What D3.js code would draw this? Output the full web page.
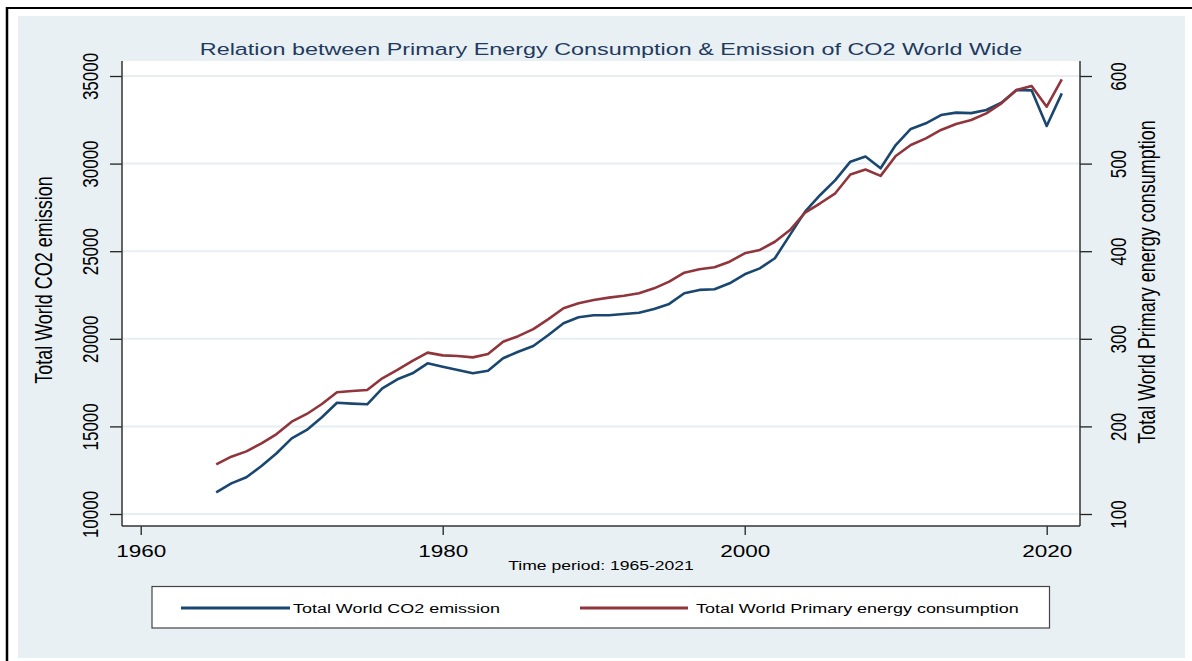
<!DOCTYPE html>
<html>
<head>
<meta charset="utf-8">
<script src="https://cdn.jsdelivr.net/npm/d3@7/dist/d3.min.js"></script>
<style>
  html, body { margin: 0; padding: 0; background: #ffffff; }
  svg { display: block; font-family: "Liberation Sans", Arial, sans-serif; }
</style>
</head>
<body>
<svg id="chart" width="1192" height="661"></svg>
<script>
// Annual observations, 1965-2021
const years = [1965,1966,1967,1968,1969,1970,1971,1972,1973,1974,1975,1976,1977,1978,1979,
  1980,1981,1982,1983,1984,1985,1986,1987,1988,1989,1990,1991,1992,1993,1994,1995,1996,
  1997,1998,1999,2000,2001,2002,2003,2004,2005,2006,2007,2008,2009,2010,2011,2012,2013,
  2014,2015,2016,2017,2018,2019,2020,2021];

// Total world CO2 emission (left axis)
const co2Emission = [11240,11750,12100,12740,13470,14320,14800,15520,16350,16300,16260,17170,
  17690,18030,18600,18410,18220,18030,18180,18890,19260,19590,20220,20890,21230,21340,21340,
  21420,21490,21700,21990,22600,22790,22830,23170,23680,24020,24600,25930,27260,28210,29060,
  30110,30400,29730,31060,31980,32300,32770,32910,32880,33060,33480,34200,34180,32150,34010];

// Total world primary energy consumption (right axis)
const energyConsumption = [156.7,165.4,171.5,180.7,191.3,205.4,214.2,225.6,238.9,240.4,241.6,
  254.9,264.4,274.7,284.2,281.1,280.4,278.8,282.6,296.7,303,311,322.5,334.8,340.5,344.3,347,
  349.2,351.9,357.6,365.2,375.5,379.3,381.6,388,397.6,401.4,410.8,424.2,444,454.7,466.1,487.5,
  493.3,486,508.7,521.2,528.8,538.4,545.2,549.8,557.4,568.8,584,588.6,565,596.2];

const xTicks = [1960, 1980, 2000, 2020];
const leftTicks = [10000, 15000, 20000, 25000, 30000, 35000];
const rightTicks = [100, 200, 300, 400, 500, 600];

const seriesNames = ["Total World CO2 emission", "Total World Primary energy consumption"];
const seriesColors = ["#1a476f", "#90353b"];

const titleText = "Relation between Primary Energy Consumption & Emission of CO2 World Wide";
const xTitle = "Time period: 1965-2021";
const leftTitle = "Total World CO2 emission";
const rightTitle = "Total World Primary energy consumption";

// ---- layout ----
const plot = { left: 122, right: 1080, top: 61, bottom: 526 };
const stretch = 1.35;     // horizontal text stretch of the graph's typeface
const vStretch = 1.3;

const svg = d3.select("#chart");

// outer frame and graph background
svg.append("rect").attr("x", 18).attr("y", 16).attr("width", 1167).attr("height", 642)
  .attr("fill", "#e9f0f3");
svg.append("line").attr("x1", 6).attr("x2", 1192).attr("y1", 8).attr("y2", 8)
  .attr("stroke", "#000").attr("stroke-width", 2);
svg.append("line").attr("x1", 7).attr("x2", 7).attr("y1", 7).attr("y2", 661)
  .attr("stroke", "#000").attr("stroke-width", 2.5);

// plot region
svg.append("rect").attr("x", plot.left).attr("y", plot.top)
  .attr("width", plot.right - plot.left).attr("height", plot.bottom - plot.top)
  .attr("fill", "#ffffff");

// scales
const x = d3.scaleLinear().domain([1960, 2020]).range([140.7, 1046.7]);
const yLeft = d3.scaleLinear().domain([10000, 35000]).range([514, 76]);
const yRight = d3.scaleLinear().domain([100, 600]).range([514, 76]);

// gridlines
svg.append("g").selectAll("line").data(leftTicks).join("line")
  .attr("x1", plot.left).attr("x2", plot.right)
  .attr("y1", d => yLeft(d)).attr("y2", d => yLeft(d))
  .attr("stroke", "#e6eef2").attr("stroke-width", 2);

// series lines
const lineCo2 = d3.line().x((d, i) => x(years[i])).y(d => yLeft(d));
const lineEnergy = d3.line().x((d, i) => x(years[i])).y(d => yRight(d));

svg.append("path").datum(co2Emission).attr("d", lineCo2)
  .attr("fill", "none").attr("stroke", seriesColors[0]).attr("stroke-width", 2.6)
  .attr("stroke-linejoin", "round");
svg.append("path").datum(energyConsumption).attr("d", lineEnergy)
  .attr("fill", "none").attr("stroke", seriesColors[1]).attr("stroke-width", 2.6)
  .attr("stroke-linejoin", "round");

// axes
function styleAxis(g) {
  g.select(".domain").remove();
  g.selectAll(".tick line").attr("stroke", "#222").attr("stroke-width", 1.3);
  g.selectAll(".tick text").attr("fill", "#000").attr("font-family", "Liberation Sans, Arial, sans-serif");
}

const gLeft = svg.append("g").attr("transform", `translate(${plot.left},0)`)
  .call(d3.axisLeft(yLeft).tickValues(leftTicks).tickSize(12).tickFormat(d3.format("d")))
  .call(styleAxis);
gLeft.selectAll(".tick text")
  .attr("x", null).attr("dy", null).attr("text-anchor", "middle").attr("font-size", 17)
  .attr("transform", `translate(-24,0) scale(${vStretch},1) rotate(-90)`);

const gRight = svg.append("g").attr("transform", `translate(${plot.right},0)`)
  .call(d3.axisRight(yRight).tickValues(rightTicks).tickSize(12).tickFormat(d3.format("d")))
  .call(styleAxis);
gRight.selectAll(".tick text")
  .attr("x", null).attr("dy", null).attr("text-anchor", "middle").attr("font-size", 17)
  .attr("transform", `translate(46,0) scale(${vStretch},1) rotate(-90)`);

const gBottom = svg.append("g").attr("transform", `translate(0,${plot.bottom})`)
  .call(d3.axisBottom(x).tickValues(xTicks).tickSize(9).tickFormat(d3.format("d")))
  .call(styleAxis);
gBottom.selectAll(".tick text")
  .attr("y", null).attr("dy", null).attr("text-anchor", "middle").attr("font-size", 16.7)
  .attr("transform", `translate(0,31) scale(${stretch},1)`);

// axis lines
const axisStroke = "#333";
svg.append("line").attr("x1", plot.left).attr("x2", plot.left).attr("y1", plot.top).attr("y2", plot.bottom)
  .attr("stroke", axisStroke).attr("stroke-width", 1.5);
svg.append("line").attr("x1", plot.right).attr("x2", plot.right).attr("y1", plot.top).attr("y2", plot.bottom)
  .attr("stroke", axisStroke).attr("stroke-width", 1.5);
svg.append("line").attr("x1", plot.left).attr("x2", plot.right).attr("y1", plot.bottom).attr("y2", plot.bottom)
  .attr("stroke", axisStroke).attr("stroke-width", 1.5);

// titles
svg.append("text").text(titleText)
  .attr("transform", `translate(611,55) scale(${stretch},1)`)
  .attr("text-anchor", "middle").attr("font-size", 17.3).attr("fill", "#1f3a5f");

svg.append("text").text(xTitle)
  .attr("transform", `translate(601,570) scale(${stretch},1)`)
  .attr("text-anchor", "middle").attr("font-size", 13).attr("fill", "#000");

svg.append("text").text(leftTitle)
  .attr("transform", `translate(51.5,280) scale(${vStretch},1) rotate(-90)`)
  .attr("text-anchor", "middle").attr("font-size", 18).attr("fill", "#000");

svg.append("text").text(rightTitle)
  .attr("transform", `translate(1155,282) scale(${vStretch},1) rotate(-90)`)
  .attr("text-anchor", "middle").attr("font-size", 18).attr("fill", "#000");

// legend
svg.append("rect").attr("x", 152).attr("y", 586.5).attr("width", 897.5).attr("height", 41.5)
  .attr("fill", "#ffffff").attr("stroke", "#444").attr("stroke-width", 1.2);

const legendKeys = [
  { x1: 181, x2: 290, tx: 293 },
  { x1: 580, x2: 688, tx: 696 }
];
const legend = svg.append("g").selectAll("g").data(seriesNames).join("g");
legend.append("line")
  .attr("x1", (d, i) => legendKeys[i].x1).attr("x2", (d, i) => legendKeys[i].x2)
  .attr("y1", 608).attr("y2", 608)
  .attr("stroke", (d, i) => seriesColors[i]).attr("stroke-width", 3);
legend.append("text").text(d => d)
  .attr("transform", (d, i) => `translate(${legendKeys[i].tx},613) scale(${stretch},1)`)
  .attr("font-size", 13.3).attr("fill", "#000");
</script>
</body>
</html>
